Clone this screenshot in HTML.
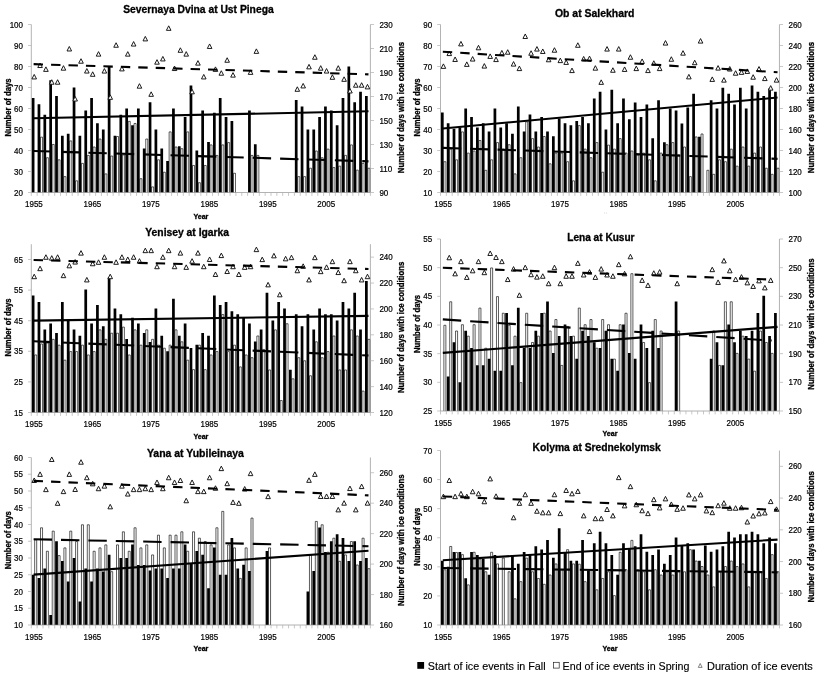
<!DOCTYPE html><html><head><meta charset="utf-8"><title>River ice events</title><style>html,body{margin:0;padding:0;background:#fff}svg{display:block;will-change:transform;opacity:.9999}text{font-family:"Liberation Sans",sans-serif;fill:#000}.t{font-size:8.4px;stroke:#000;stroke-width:.2px}.l{stroke:#000;stroke-width:.15px}.b{font-weight:bold;stroke:#000;stroke-width:.3px}</style></head><body>
<svg width="818" height="675" viewBox="0 0 818 675">
<rect width="818" height="675" fill="#fff"/>
<g><path d="M40.52 192.50V137.13H42.54V192.50M46.36 192.50V157.71H48.38V192.50M52.21 192.50V144.48H54.23V192.50M58.06 192.50V159.81H60.08V192.50M63.90 192.50V176.61H65.92V192.50M69.75 192.50V140.91H71.77V192.50M75.60 192.50V180.81H77.62V192.50M81.44 192.50V163.38H83.46V192.50M87.29 192.50V155.40H89.31V192.50M93.14 192.50V147.00H95.16V192.50M98.98 192.50V139.02H101.00V192.50M104.83 192.50V173.88H106.85V192.50M110.68 192.50V156.03H112.70V192.50M116.52 192.50V136.50H118.54V192.50M122.37 192.50V154.98H124.39V192.50M128.22 192.50V121.38H130.24V192.50M134.06 192.50V123.48H136.08V192.50M139.91 192.50V178.71H141.93V192.50M145.76 192.50V139.02H147.78V192.50M151.60 192.50V186.90H153.62V192.50M157.45 192.50V159.81H159.47V192.50M163.30 192.50V172.20H165.32V192.50M169.14 192.50V131.88H171.16V192.50M174.99 192.50V147.00H177.01V192.50M180.83 192.50V148.68H182.85V192.50M186.68 192.50V131.88H188.70V192.50M192.53 192.50V165.48H194.55V192.50M198.37 192.50V182.70H200.39V192.50M204.22 192.50V165.48H206.24V192.50M210.07 192.50V144.90H212.09V192.50M215.91 192.50V155.40H217.93V192.50M221.76 192.50V144.90H223.78V192.50M227.61 192.50V142.59H229.63V192.50M233.45 192.50V173.25H235.47V192.50M250.99 192.50V155.40H253.01V192.50M256.84 192.50V155.40H258.86V192.50M297.77 192.50V176.61H299.79V192.50M303.61 192.50V176.61H305.63V192.50M309.46 192.50V168.21H311.48V192.50M315.31 192.50V150.99H317.33V192.50M321.15 192.50V157.71H323.17V192.50M327.00 192.50V149.10H329.02V192.50M332.85 192.50V167.58H334.87V192.50M338.69 192.50V166.11H340.71V192.50M344.54 192.50V155.40H346.56V192.50M350.39 192.50V144.90H352.41V192.50M356.23 192.50V170.10H358.25V192.50M362.08 192.50V163.38H364.10V192.50M367.93 192.50V168.21H369.95V192.50" fill="#fff" stroke="#000" stroke-width="0.64"/><path d="M31.75 192.50V98.00H34.47V192.50ZM37.60 192.50V104.30H40.32V192.50ZM43.44 192.50V114.80H46.16V192.50ZM49.29 192.50V80.15H52.01V192.50ZM55.14 192.50V95.90H57.86V192.50ZM60.98 192.50V135.80H63.70V192.50ZM66.83 192.50V133.70H69.55V192.50ZM72.68 192.50V87.50H75.40V192.50ZM78.52 192.50V135.80H81.24V192.50ZM84.37 192.50V110.60H87.09V192.50ZM90.22 192.50V98.00H92.94V192.50ZM96.06 192.50V123.20H98.78V192.50ZM101.91 192.50V129.50H104.63V192.50ZM107.76 192.50V66.50H110.48V192.50ZM113.60 192.50V135.80H116.32V192.50ZM119.45 192.50V114.80H122.17V192.50ZM125.30 192.50V108.50H128.02V192.50ZM131.14 192.50V125.30H133.86V192.50ZM136.99 192.50V108.50H139.71V192.50ZM142.84 192.50V148.40H145.56V192.50ZM148.68 192.50V102.20H151.40V192.50ZM154.53 192.50V129.50H157.25V192.50ZM160.38 192.50V148.40H163.10V192.50ZM166.22 192.50V161.00H168.94V192.50ZM172.07 192.50V108.50H174.79V192.50ZM177.91 192.50V146.30H180.63V192.50ZM183.76 192.50V116.90H186.48V192.50ZM189.61 192.50V85.40H192.33V192.50ZM195.45 192.50V150.50H198.17V192.50ZM201.30 192.50V110.60H204.02V192.50ZM207.15 192.50V142.10H209.87V192.50ZM212.99 192.50V112.70H215.71V192.50ZM218.84 192.50V98.00H221.56V192.50ZM224.69 192.50V116.90H227.41V192.50ZM230.53 192.50V121.10H233.25V192.50ZM248.07 192.50V110.60H250.79V192.50ZM253.92 192.50V144.20H256.64V192.50ZM294.85 192.50V100.10H297.57V192.50ZM300.69 192.50V106.40H303.41V192.50ZM306.54 192.50V129.50H309.26V192.50ZM312.39 192.50V129.50H315.11V192.50ZM318.23 192.50V116.90H320.95V192.50ZM324.08 192.50V106.40H326.80V192.50ZM329.93 192.50V110.60H332.65V192.50ZM335.77 192.50V125.30H338.49V192.50ZM341.62 192.50V98.00H344.34V192.50ZM347.47 192.50V66.50H350.19V192.50ZM353.31 192.50V102.20H356.03V192.50ZM359.16 192.50V91.70H361.88V192.50ZM365.01 192.50V95.90H367.73V192.50Z" fill="#000"/><path d="M31.30 24.50V192.50H370.40V24.50" fill="none" stroke="#8a8a8a" stroke-width="0.65"/><text class="t" transform="translate(23.00 195.50) scale(.953 1)" text-anchor="end">20</text><text class="t" transform="translate(23.00 174.50) scale(.953 1)" text-anchor="end">30</text><text class="t" transform="translate(23.00 153.50) scale(.953 1)" text-anchor="end">40</text><text class="t" transform="translate(23.00 132.50) scale(.953 1)" text-anchor="end">50</text><text class="t" transform="translate(23.00 111.50) scale(.953 1)" text-anchor="end">60</text><text class="t" transform="translate(23.00 90.50) scale(.953 1)" text-anchor="end">70</text><text class="t" transform="translate(23.00 69.50) scale(.953 1)" text-anchor="end">80</text><text class="t" transform="translate(23.00 48.50) scale(.953 1)" text-anchor="end">90</text><text class="t" transform="translate(23.00 27.50) scale(.953 1)" text-anchor="end">100</text><text class="t" transform="translate(379.40 195.50) scale(.953 1)">90</text><text class="t" transform="translate(379.40 171.50) scale(.953 1)">110</text><text class="t" transform="translate(379.40 147.50) scale(.953 1)">130</text><text class="t" transform="translate(379.40 123.50) scale(.953 1)">150</text><text class="t" transform="translate(379.40 99.50) scale(.953 1)">170</text><text class="t" transform="translate(379.40 75.50) scale(.953 1)">190</text><text class="t" transform="translate(379.40 51.50) scale(.953 1)">210</text><text class="t" transform="translate(379.40 27.50) scale(.953 1)">230</text><path d="M31.30 192.50h-3.3M31.30 171.50h-3.3M31.30 150.50h-3.3M31.30 129.50h-3.3M31.30 108.50h-3.3M31.30 87.50h-3.3M31.30 66.50h-3.3M31.30 45.50h-3.3M31.30 24.50h-3.3M370.40 192.50h3.6M370.40 168.50h3.6M370.40 144.50h3.6M370.40 120.50h3.6M370.40 96.50h3.6M370.40 72.50h3.6M370.40 48.50h3.6M370.40 24.50h3.6M31.30 192.50v3.4M37.15 192.50v3.4M42.99 192.50v3.4M48.84 192.50v3.4M54.69 192.50v3.4M60.53 192.50v3.4M66.38 192.50v3.4M72.23 192.50v3.4M78.07 192.50v3.4M83.92 192.50v3.4M89.77 192.50v3.4M95.61 192.50v3.4M101.46 192.50v3.4M107.31 192.50v3.4M113.15 192.50v3.4M119.00 192.50v3.4M124.85 192.50v3.4M130.69 192.50v3.4M136.54 192.50v3.4M142.39 192.50v3.4M148.23 192.50v3.4M154.08 192.50v3.4M159.93 192.50v3.4M165.77 192.50v3.4M171.62 192.50v3.4M177.47 192.50v3.4M183.31 192.50v3.4M189.16 192.50v3.4M195.00 192.50v3.4M200.85 192.50v3.4M206.70 192.50v3.4M212.54 192.50v3.4M218.39 192.50v3.4M224.24 192.50v3.4M230.08 192.50v3.4M235.93 192.50v3.4M241.78 192.50v3.4M247.62 192.50v3.4M253.47 192.50v3.4M259.32 192.50v3.4M265.16 192.50v3.4M271.01 192.50v3.4M276.86 192.50v3.4M282.70 192.50v3.4M288.55 192.50v3.4M294.40 192.50v3.4M300.24 192.50v3.4M306.09 192.50v3.4M311.94 192.50v3.4M317.78 192.50v3.4M323.63 192.50v3.4M329.48 192.50v3.4M335.32 192.50v3.4M341.17 192.50v3.4M347.02 192.50v3.4M352.86 192.50v3.4M358.71 192.50v3.4M364.56 192.50v3.4M370.40 192.50v3.4" fill="none" stroke="#b0b0b0" stroke-width="0.7"/><text class="t" transform="translate(33.92 207.30) scale(.953 1)" text-anchor="middle">1955</text><text class="t" transform="translate(92.39 207.30) scale(.953 1)" text-anchor="middle">1965</text><text class="t" transform="translate(150.86 207.30) scale(.953 1)" text-anchor="middle">1975</text><text class="t" transform="translate(209.32 207.30) scale(.953 1)" text-anchor="middle">1985</text><text class="t" transform="translate(267.79 207.30) scale(.953 1)" text-anchor="middle">1995</text><text class="t" transform="translate(326.25 207.30) scale(.953 1)" text-anchor="middle">2005</text><path d="M34.22 74.44L36.52 78.94H31.92ZM40.07 63.04L42.37 67.54H37.77ZM45.92 66.88L48.22 71.38H43.62ZM51.76 79.72L54.06 84.22H49.46ZM57.61 79.72L59.91 84.22H55.31ZM63.46 65.68L65.76 70.18H61.16ZM69.30 46.48L71.60 50.98H67.00ZM75.15 96.52L77.45 101.02H72.85ZM81.00 58.72L83.30 63.22H78.70ZM86.84 68.56L89.14 73.06H84.54ZM92.69 71.80L94.99 76.30H90.39ZM98.54 51.64L100.84 56.14H96.24ZM104.38 68.56L106.68 73.06H102.08ZM110.23 94.84L112.53 99.34H107.93ZM116.08 42.76L118.38 47.26H113.78ZM121.92 66.40L124.22 70.90H119.62ZM127.77 51.64L130.07 56.14H125.47ZM133.62 41.56L135.92 46.06H131.32ZM139.46 83.68L141.76 88.18H137.16ZM145.31 36.40L147.61 40.90H143.01ZM151.16 91.84L153.46 96.34H148.86ZM157.00 59.68L159.30 64.18H154.70ZM162.85 56.44L165.15 60.94H160.55ZM168.70 25.84L171.00 30.34H166.40ZM174.54 66.04L176.84 70.54H172.24ZM180.39 47.80L182.69 52.30H178.09ZM186.23 51.64L188.53 56.14H183.93ZM192.08 89.32L194.38 93.82H189.78ZM197.93 60.64L200.23 65.14H195.63ZM203.77 74.44L206.07 78.94H201.47ZM209.62 43.96L211.92 48.46H207.32ZM215.47 66.88L217.77 71.38H213.17ZM221.31 70.72L223.61 75.22H219.01ZM227.16 57.76L229.46 62.26H224.86ZM233.01 72.64L235.31 77.14H230.71ZM250.55 69.88L252.85 74.38H248.25ZM256.39 48.88L258.69 53.38H254.09ZM297.32 86.80L299.62 91.30H295.02ZM303.17 83.44L305.47 87.94H300.87ZM309.01 64.36L311.31 68.86H306.71ZM314.86 54.76L317.16 59.26H312.56ZM320.71 65.68L323.01 70.18H318.41ZM326.55 68.56L328.85 73.06H324.25ZM332.40 74.80L334.70 79.30H330.10ZM338.25 65.68L340.55 70.18H335.95ZM344.09 76.84L346.39 81.34H341.79ZM349.94 88.48L352.24 92.98H347.64ZM355.79 82.72L358.09 87.22H353.49ZM361.63 82.72L363.93 87.22H359.33ZM367.48 84.40L369.78 88.90H365.18Z" fill="#fff" stroke="#111" stroke-width="0.95" stroke-linejoin="miter"/><line x1="33.62" y1="118.32" x2="368.48" y2="111.27" stroke="#000" stroke-width="2.1"/><line x1="33.62" y1="150.99" x2="368.48" y2="161.36" stroke="#000" stroke-width="2.1" stroke-dasharray="18.4 9.0"/><line x1="33.62" y1="64.17" x2="368.48" y2="74.36" stroke="#000" stroke-width="2.1" stroke-dasharray="9.4 8.05"/><text class="b" x="198.4" y="12.7" text-anchor="middle" font-size="10.3">Severnaya Dvina at Ust Pinega</text><text class="b" transform="translate(11.0 107.5) rotate(-90) scale(.905 1)" text-anchor="middle" font-size="8.5">Number of days</text><text class="b" transform="translate(404.4 107.5) rotate(-90) scale(.919 1)" text-anchor="middle" font-size="8.5">Number of days with ice conditions</text><text class="b" x="200.9" y="218.6" text-anchor="middle" font-size="7.1">Year</text></g>
<g><path d="M443.87 192.50V161.70H445.89V192.50M449.71 192.50V149.10H451.73V192.50M455.56 192.50V159.81H457.58V192.50M461.40 192.50V131.88H463.42V192.50M467.25 192.50V153.09H469.27V192.50M473.09 192.50V150.99H475.11V192.50M478.93 192.50V140.49H480.95V192.50M484.78 192.50V170.31H486.80V192.50M490.62 192.50V159.81H492.64V192.50M496.47 192.50V142.59H498.49V192.50M502.31 192.50V149.10H504.33V192.50M508.15 192.50V144.69H510.17V192.50M514.00 192.50V173.88H516.02V192.50M519.84 192.50V157.71H521.86V192.50M525.69 192.50V121.80H527.71V192.50M531.53 192.50V138.60H533.55V192.50M537.37 192.50V147.00H539.39V192.50M543.22 192.50V136.50H545.24V192.50M549.06 192.50V163.80H551.08V192.50M554.91 192.50V153.09H556.93V192.50M560.75 192.50V153.09H562.77V192.50M566.59 192.50V161.70H568.61V192.50M572.44 192.50V180.81H574.46V192.50M578.28 192.50V125.58H580.30V192.50M584.13 192.50V149.10H586.15V192.50M589.97 192.50V157.71H591.99V192.50M595.81 192.50V142.59H597.83V192.50M601.66 192.50V172.20H603.68V192.50M607.50 192.50V145.11H609.52V192.50M613.35 192.50V149.10H615.37V192.50M619.19 192.50V138.60H621.21V192.50M625.03 192.50V153.09H627.05V192.50M630.88 192.50V150.99H632.90V192.50M636.72 192.50V154.98H638.74V192.50M642.57 192.50V153.09H644.59V192.50M648.41 192.50V159.81H650.43V192.50M654.25 192.50V180.81H656.27V192.50M660.10 192.50V153.09H662.12V192.50M665.94 192.50V144.69H667.96V192.50M671.79 192.50V142.59H673.81V192.50M677.63 192.50V154.98H679.65V192.50M683.47 192.50V147.00H685.49V192.50M689.32 192.50V176.61H691.34V192.50M695.16 192.50V136.92H697.18V192.50M701.01 192.50V133.98H703.03V192.50M706.85 192.50V170.31H708.87V192.50M712.69 192.50V174.30H714.71V192.50M718.54 192.50V159.81H720.56V192.50M724.38 192.50V161.70H726.40V192.50M730.23 192.50V149.10H732.25V192.50M736.07 192.50V166.11H738.09V192.50M741.91 192.50V147.00H743.93V192.50M747.76 192.50V166.11H749.78V192.50M753.60 192.50V153.09H755.62V192.50M759.45 192.50V147.00H761.47V192.50M765.29 192.50V168.21H767.31V192.50M771.13 192.50V174.30H773.15V192.50M776.98 192.50V168.21H779.00V192.50" fill="#fff" stroke="#000" stroke-width="0.64"/><path d="M440.95 192.50V112.49H443.67V192.50ZM446.79 192.50V123.20H449.51V192.50ZM452.64 192.50V128.66H455.36V192.50ZM458.48 192.50V127.61H461.20V192.50ZM464.33 192.50V108.50H467.05V192.50ZM470.17 192.50V117.11H472.89V192.50ZM476.01 192.50V127.61H478.73V192.50ZM481.86 192.50V123.20H484.58V192.50ZM487.70 192.50V131.60H490.42V192.50ZM493.55 192.50V108.50H496.27V192.50ZM499.39 192.50V127.61H502.11V192.50ZM505.23 192.50V123.20H507.95V192.50ZM511.08 192.50V133.70H513.80V192.50ZM516.92 192.50V106.40H519.64V192.50ZM522.77 192.50V131.60H525.49V192.50ZM528.61 192.50V114.59H531.33V192.50ZM534.45 192.50V131.60H537.17V192.50ZM540.30 192.50V117.11H543.02V192.50ZM546.14 192.50V131.60H548.86V192.50ZM551.99 192.50V136.22H554.71V192.50ZM557.83 192.50V118.58H560.55V192.50ZM563.67 192.50V123.20H566.39V192.50ZM569.52 192.50V125.30H572.24V192.50ZM575.36 192.50V121.10H578.08V192.50ZM581.21 192.50V117.11H583.93V192.50ZM587.05 192.50V123.20H589.77V192.50ZM592.89 192.50V98.42H595.61V192.50ZM598.74 192.50V91.70H601.46V192.50ZM604.58 192.50V129.50H607.30V192.50ZM610.43 192.50V89.81H613.15V192.50ZM616.27 192.50V123.20H618.99V192.50ZM622.11 192.50V98.42H624.83V192.50ZM627.96 192.50V119.21H630.68V192.50ZM633.80 192.50V102.41H636.52V192.50ZM639.65 192.50V117.11H642.37V192.50ZM645.49 192.50V104.51H648.21V192.50ZM651.33 192.50V138.32H654.05V192.50ZM657.18 192.50V100.31H659.90V192.50ZM663.02 192.50V142.31H665.74V192.50ZM668.87 192.50V108.50H671.59V192.50ZM674.71 192.50V110.60H677.43V192.50ZM680.55 192.50V123.62H683.27V192.50ZM686.40 192.50V107.45H689.12V192.50ZM692.24 192.50V93.80H694.96V192.50ZM698.09 192.50V136.64H700.81V192.50ZM709.77 192.50V100.31H712.49V192.50ZM715.62 192.50V108.50H718.34V192.50ZM721.46 192.50V87.71H724.18V192.50ZM727.31 192.50V93.80H730.03V192.50ZM733.15 192.50V104.51H735.87V192.50ZM738.99 192.50V87.71H741.71V192.50ZM744.84 192.50V108.50H747.56V192.50ZM750.68 192.50V85.40H753.40V192.50ZM756.53 192.50V91.70H759.25V192.50ZM762.37 192.50V95.90H765.09V192.50ZM768.21 192.50V88.55H770.93V192.50ZM774.06 192.50V91.70H776.78V192.50Z" fill="#000"/><path d="M440.50 24.50V192.50H779.45V24.50" fill="none" stroke="#8a8a8a" stroke-width="0.65"/><text class="t" transform="translate(432.20 195.50) scale(.953 1)" text-anchor="end">10</text><text class="t" transform="translate(432.20 174.50) scale(.953 1)" text-anchor="end">20</text><text class="t" transform="translate(432.20 153.50) scale(.953 1)" text-anchor="end">30</text><text class="t" transform="translate(432.20 132.50) scale(.953 1)" text-anchor="end">40</text><text class="t" transform="translate(432.20 111.50) scale(.953 1)" text-anchor="end">50</text><text class="t" transform="translate(432.20 90.50) scale(.953 1)" text-anchor="end">60</text><text class="t" transform="translate(432.20 69.50) scale(.953 1)" text-anchor="end">70</text><text class="t" transform="translate(432.20 48.50) scale(.953 1)" text-anchor="end">80</text><text class="t" transform="translate(432.20 27.50) scale(.953 1)" text-anchor="end">90</text><text class="t" transform="translate(788.45 195.50) scale(.953 1)">100</text><text class="t" transform="translate(788.45 174.50) scale(.953 1)">120</text><text class="t" transform="translate(788.45 153.50) scale(.953 1)">140</text><text class="t" transform="translate(788.45 132.50) scale(.953 1)">160</text><text class="t" transform="translate(788.45 111.50) scale(.953 1)">180</text><text class="t" transform="translate(788.45 90.50) scale(.953 1)">200</text><text class="t" transform="translate(788.45 69.50) scale(.953 1)">220</text><text class="t" transform="translate(788.45 48.50) scale(.953 1)">240</text><text class="t" transform="translate(788.45 27.50) scale(.953 1)">260</text><path d="M440.50 192.50h-3.3M440.50 171.50h-3.3M440.50 150.50h-3.3M440.50 129.50h-3.3M440.50 108.50h-3.3M440.50 87.50h-3.3M440.50 66.50h-3.3M440.50 45.50h-3.3M440.50 24.50h-3.3M779.45 192.50h3.6M779.45 171.50h3.6M779.45 150.50h3.6M779.45 129.50h3.6M779.45 108.50h3.6M779.45 87.50h3.6M779.45 66.50h3.6M779.45 45.50h3.6M779.45 24.50h3.6M440.50 192.50v3.4M446.34 192.50v3.4M452.19 192.50v3.4M458.03 192.50v3.4M463.88 192.50v3.4M469.72 192.50v3.4M475.56 192.50v3.4M481.41 192.50v3.4M487.25 192.50v3.4M493.10 192.50v3.4M498.94 192.50v3.4M504.78 192.50v3.4M510.63 192.50v3.4M516.47 192.50v3.4M522.32 192.50v3.4M528.16 192.50v3.4M534.00 192.50v3.4M539.85 192.50v3.4M545.69 192.50v3.4M551.54 192.50v3.4M557.38 192.50v3.4M563.22 192.50v3.4M569.07 192.50v3.4M574.91 192.50v3.4M580.76 192.50v3.4M586.60 192.50v3.4M592.44 192.50v3.4M598.29 192.50v3.4M604.13 192.50v3.4M609.98 192.50v3.4M615.82 192.50v3.4M621.66 192.50v3.4M627.51 192.50v3.4M633.35 192.50v3.4M639.20 192.50v3.4M645.04 192.50v3.4M650.88 192.50v3.4M656.73 192.50v3.4M662.57 192.50v3.4M668.42 192.50v3.4M674.26 192.50v3.4M680.10 192.50v3.4M685.95 192.50v3.4M691.79 192.50v3.4M697.64 192.50v3.4M703.48 192.50v3.4M709.32 192.50v3.4M715.17 192.50v3.4M721.01 192.50v3.4M726.86 192.50v3.4M732.70 192.50v3.4M738.54 192.50v3.4M744.39 192.50v3.4M750.23 192.50v3.4M756.08 192.50v3.4M761.92 192.50v3.4M767.76 192.50v3.4M773.61 192.50v3.4M779.45 192.50v3.4" fill="none" stroke="#b0b0b0" stroke-width="0.7"/><text class="t" transform="translate(443.12 207.30) scale(.953 1)" text-anchor="middle">1955</text><text class="t" transform="translate(501.56 207.30) scale(.953 1)" text-anchor="middle">1965</text><text class="t" transform="translate(560.00 207.30) scale(.953 1)" text-anchor="middle">1975</text><text class="t" transform="translate(618.44 207.30) scale(.953 1)" text-anchor="middle">1985</text><text class="t" transform="translate(676.88 207.30) scale(.953 1)" text-anchor="middle">1995</text><text class="t" transform="translate(735.32 207.30) scale(.953 1)" text-anchor="middle">2005</text><path d="M443.42 63.89L445.72 68.39H441.12ZM449.27 51.09L451.57 55.59H446.97ZM455.11 56.97L457.41 61.47H452.81ZM460.95 41.42L463.25 45.92H458.65ZM466.80 61.90L469.10 66.40H464.50ZM472.64 56.55L474.94 61.05H470.34ZM478.49 45.31L480.79 49.81H476.19ZM484.33 63.58L486.63 68.08H482.03ZM490.17 53.92L492.47 58.42H487.87ZM496.02 57.07L498.32 61.57H493.72ZM501.86 50.45L504.16 54.95H499.56ZM507.71 49.72L510.01 54.22H505.41ZM513.55 61.59L515.85 66.09H511.25ZM519.39 66.10L521.69 70.60H517.09ZM525.24 33.97L527.54 38.47H522.94ZM531.08 50.77L533.38 55.27H528.78ZM536.93 46.57L539.23 51.07H534.63ZM542.77 48.98L545.07 53.48H540.47ZM548.61 57.28L550.91 61.78H546.31ZM554.46 47.72L556.76 52.22H552.16ZM560.30 58.12L562.60 62.62H558.00ZM566.15 59.91L568.45 64.41H563.85ZM571.99 68.09L574.29 72.59H569.69ZM577.83 42.79L580.13 47.29H575.53ZM583.68 56.44L585.98 60.94H581.38ZM589.52 56.12L591.82 60.62H587.22ZM595.37 65.68L597.67 70.18H593.07ZM601.21 79.86L603.51 84.36H598.91ZM607.05 46.57L609.35 51.07H604.75ZM612.90 67.78L615.20 72.28H610.60ZM618.74 46.57L621.04 51.07H616.44ZM624.59 66.94L626.89 71.44H622.29ZM630.43 54.76L632.73 59.26H628.13ZM636.27 66.10L638.57 70.60H633.97ZM642.12 58.96L644.42 63.46H639.82ZM647.96 68.09L650.26 72.59H645.66ZM653.81 60.75L656.11 65.25H651.51ZM659.65 66.10L661.95 70.60H657.35ZM665.49 40.59L667.79 45.09H663.19ZM671.34 56.75L673.64 61.25H669.04ZM683.03 50.66L685.33 55.16H680.73ZM688.87 74.39L691.17 78.89H686.57ZM694.71 60.22L697.01 64.72H692.41ZM700.56 38.59L702.86 43.09H698.26ZM712.25 76.92L714.55 81.42H709.95ZM718.09 65.58L720.39 70.08H715.79ZM723.93 77.65L726.23 82.15H721.63ZM729.78 66.52L732.08 71.02H727.48ZM735.62 70.72L737.92 75.22H733.32ZM741.47 69.88L743.77 74.38H739.17ZM747.31 68.93L749.61 73.43H745.01ZM753.15 74.71L755.45 79.21H750.85ZM759.00 66.52L761.30 71.02H756.70ZM764.84 76.08L767.14 80.58H762.54ZM770.69 85.63L772.99 90.13H768.39ZM776.53 77.65L778.83 82.15H774.23Z" fill="#fff" stroke="#111" stroke-width="0.95" stroke-linejoin="miter"/><line x1="442.82" y1="128.45" x2="777.53" y2="97.55" stroke="#000" stroke-width="2.1"/><line x1="442.82" y1="147.85" x2="777.53" y2="158.84" stroke="#000" stroke-width="2.1" stroke-dasharray="18.4 9.0"/><line x1="442.82" y1="51.73" x2="777.53" y2="72.26" stroke="#000" stroke-width="2.1" stroke-dasharray="9.4 8.05"/><text class="b" x="594.7" y="16.6" text-anchor="middle" font-size="10.44">Ob at Salekhard</text><text class="b" transform="translate(420.2 107.5) rotate(-90) scale(.905 1)" text-anchor="middle" font-size="8.5">Number of days</text><text class="b" transform="translate(813.5 107.5) rotate(-90) scale(.919 1)" text-anchor="middle" font-size="8.5">Number of days with ice conditions</text></g>
<g><path d="M34.67 412.50V354.95H36.69V412.50M40.52 412.50V343.93H42.54V412.50M46.36 412.50V343.01H48.38V412.50M52.21 412.50V339.34H54.23V412.50M58.06 412.50V345.15H60.08V412.50M63.90 412.50V360.15H65.92V412.50M69.75 412.50V351.58H71.77V412.50M75.60 412.50V351.58H77.62V412.50M81.44 412.50V345.15H83.46V412.50M87.29 412.50V354.95H89.31V412.50M93.14 412.50V351.58H95.16V412.50M98.98 412.50V329.85H101.00V412.50M104.83 412.50V339.34H106.85V412.50M110.68 412.50V333.22H112.70V412.50M116.52 412.50V333.22H118.54V412.50M122.37 412.50V327.10H124.39V412.50M128.22 412.50V354.95H130.24V412.50M134.06 412.50V329.85H136.08V412.50M139.91 412.50V345.15H141.93V412.50M145.76 412.50V329.85H147.78V412.50M151.60 412.50V339.34H153.62V412.50M157.45 412.50V345.15H159.47V412.50M163.30 412.50V348.21H165.32V412.50M169.14 412.50V345.15H171.16V412.50M174.99 412.50V329.85H177.01V412.50M180.83 412.50V341.79H182.85V412.50M186.68 412.50V360.15H188.70V412.50M192.53 412.50V369.63H194.55V412.50M198.37 412.50V345.15H200.39V412.50M204.22 412.50V369.63H206.24V412.50M210.07 412.50V354.95H212.09V412.50M215.91 412.50V351.58H217.93V412.50M221.76 412.50V314.55H223.78V412.50M227.61 412.50V351.58H229.63V412.50M233.45 412.50V345.15H235.47V412.50M239.30 412.50V366.88H241.32V412.50M245.15 412.50V354.95H247.17V412.50M250.99 412.50V357.70H253.01V412.50M256.84 412.50V335.97H258.86V412.50M262.69 412.50V349.44H264.71V412.50M268.53 412.50V369.94H270.55V412.50M274.38 412.50V329.85H276.40V412.50M280.23 412.50V400.54H282.25V412.50M286.07 412.50V323.73H288.09V412.50M291.92 412.50V378.81H293.94V412.50M297.77 412.50V357.70H299.79V412.50M303.61 412.50V360.76H305.63V412.50M309.46 412.50V375.75H311.48V412.50M315.31 412.50V341.79H317.33V412.50M321.15 412.50V357.70H323.17V412.50M327.00 412.50V351.58H329.02V412.50M332.85 412.50V335.97H334.87V412.50M338.69 412.50V369.94H340.71V412.50M344.54 412.50V369.94H346.56V412.50M350.39 412.50V329.85H352.41V412.50M356.23 412.50V335.97H358.25V412.50M362.08 412.50V391.05H364.10V412.50M367.93 412.50V339.34H369.95V412.50" fill="#fff" stroke="#000" stroke-width="0.64"/><path d="M31.75 412.50V295.61H34.47V412.50ZM37.60 412.50V302.03H40.32V412.50ZM43.44 412.50V329.57H46.16V412.50ZM49.29 412.50V323.45H52.01V412.50ZM55.14 412.50V332.94H57.86V412.50ZM60.98 412.50V302.03H63.70V412.50ZM66.83 412.50V320.39H69.55V412.50ZM72.68 412.50V329.57H75.40V412.50ZM78.52 412.50V335.69H81.24V412.50ZM84.37 412.50V289.49H87.09V412.50ZM90.22 412.50V323.45H92.94V412.50ZM96.06 412.50V305.09H98.78V412.50ZM101.91 412.50V326.21H104.63V412.50ZM107.76 412.50V277.55H110.48V412.50ZM113.60 412.50V308.46H116.32V412.50ZM119.45 412.50V314.27H122.17V412.50ZM125.30 412.50V339.06H128.02V412.50ZM131.14 412.50V317.64H133.86V412.50ZM136.99 412.50V323.45H139.71V412.50ZM142.84 412.50V332.94H145.56V412.50ZM148.68 412.50V342.12H151.40V412.50ZM154.53 412.50V308.46H157.25V412.50ZM160.38 412.50V335.69H163.10V412.50ZM166.22 412.50V351.30H168.94V412.50ZM172.07 412.50V298.67H174.79V412.50ZM177.91 412.50V335.69H180.63V412.50ZM183.76 412.50V323.45H186.48V412.50ZM189.61 412.50V347.93H192.33V412.50ZM195.45 412.50V344.87H198.17V412.50ZM201.30 412.50V332.94H204.02V412.50ZM207.15 412.50V335.69H209.87V412.50ZM212.99 412.50V295.61H215.71V412.50ZM218.84 412.50V305.09H221.56V412.50ZM224.69 412.50V302.03H227.41V412.50ZM230.53 412.50V311.21H233.25V412.50ZM236.38 412.50V314.27H239.10V412.50ZM242.23 412.50V317.64H244.95V412.50ZM248.07 412.50V323.45H250.79V412.50ZM253.92 412.50V341.51H256.64V412.50ZM259.77 412.50V329.57H262.49V412.50ZM265.61 412.50V292.85H268.33V412.50ZM271.46 412.50V320.39H274.18V412.50ZM277.31 412.50V302.03H280.03V412.50ZM283.15 412.50V308.46H285.87V412.50ZM289.00 412.50V369.66H291.72V412.50ZM294.85 412.50V314.27H297.57V412.50ZM300.69 412.50V326.21H303.41V412.50ZM306.54 412.50V314.27H309.26V412.50ZM312.39 412.50V329.57H315.11V412.50ZM318.23 412.50V308.46H320.95V412.50ZM324.08 412.50V314.27H326.80V412.50ZM329.93 412.50V314.27H332.65V412.50ZM335.77 412.50V320.39H338.49V412.50ZM341.62 412.50V302.03H344.34V412.50ZM347.47 412.50V308.46H350.19V412.50ZM353.31 412.50V292.85H356.03V412.50ZM359.16 412.50V329.57H361.88V412.50ZM365.01 412.50V280.92H367.73V412.50Z" fill="#000"/><path d="M31.30 244.20V412.50H370.40V244.20" fill="none" stroke="#8a8a8a" stroke-width="0.65"/><text class="t" transform="translate(23.00 415.50) scale(.953 1)" text-anchor="end">15</text><text class="t" transform="translate(23.00 384.90) scale(.953 1)" text-anchor="end">25</text><text class="t" transform="translate(23.00 354.30) scale(.953 1)" text-anchor="end">35</text><text class="t" transform="translate(23.00 323.70) scale(.953 1)" text-anchor="end">45</text><text class="t" transform="translate(23.00 293.10) scale(.953 1)" text-anchor="end">55</text><text class="t" transform="translate(23.00 262.50) scale(.953 1)" text-anchor="end">65</text><text class="t" transform="translate(379.40 415.50) scale(.953 1)">120</text><text class="t" transform="translate(379.40 389.61) scale(.953 1)">140</text><text class="t" transform="translate(379.40 363.72) scale(.953 1)">160</text><text class="t" transform="translate(379.40 337.82) scale(.953 1)">180</text><text class="t" transform="translate(379.40 311.93) scale(.953 1)">200</text><text class="t" transform="translate(379.40 286.04) scale(.953 1)">220</text><text class="t" transform="translate(379.40 260.15) scale(.953 1)">240</text><path d="M31.30 412.50h-3.3M31.30 381.90h-3.3M31.30 351.30h-3.3M31.30 320.70h-3.3M31.30 290.10h-3.3M31.30 259.50h-3.3M370.40 412.50h3.6M370.40 386.61h3.6M370.40 360.72h3.6M370.40 334.82h3.6M370.40 308.93h3.6M370.40 283.04h3.6M370.40 257.15h3.6M31.30 412.50v3.4M37.15 412.50v3.4M42.99 412.50v3.4M48.84 412.50v3.4M54.69 412.50v3.4M60.53 412.50v3.4M66.38 412.50v3.4M72.23 412.50v3.4M78.07 412.50v3.4M83.92 412.50v3.4M89.77 412.50v3.4M95.61 412.50v3.4M101.46 412.50v3.4M107.31 412.50v3.4M113.15 412.50v3.4M119.00 412.50v3.4M124.85 412.50v3.4M130.69 412.50v3.4M136.54 412.50v3.4M142.39 412.50v3.4M148.23 412.50v3.4M154.08 412.50v3.4M159.93 412.50v3.4M165.77 412.50v3.4M171.62 412.50v3.4M177.47 412.50v3.4M183.31 412.50v3.4M189.16 412.50v3.4M195.00 412.50v3.4M200.85 412.50v3.4M206.70 412.50v3.4M212.54 412.50v3.4M218.39 412.50v3.4M224.24 412.50v3.4M230.08 412.50v3.4M235.93 412.50v3.4M241.78 412.50v3.4M247.62 412.50v3.4M253.47 412.50v3.4M259.32 412.50v3.4M265.16 412.50v3.4M271.01 412.50v3.4M276.86 412.50v3.4M282.70 412.50v3.4M288.55 412.50v3.4M294.40 412.50v3.4M300.24 412.50v3.4M306.09 412.50v3.4M311.94 412.50v3.4M317.78 412.50v3.4M323.63 412.50v3.4M329.48 412.50v3.4M335.32 412.50v3.4M341.17 412.50v3.4M347.02 412.50v3.4M352.86 412.50v3.4M358.71 412.50v3.4M364.56 412.50v3.4M370.40 412.50v3.4" fill="none" stroke="#b0b0b0" stroke-width="0.7"/><text class="t" transform="translate(33.92 427.30) scale(.953 1)" text-anchor="middle">1955</text><text class="t" transform="translate(92.39 427.30) scale(.953 1)" text-anchor="middle">1965</text><text class="t" transform="translate(150.86 427.30) scale(.953 1)" text-anchor="middle">1975</text><text class="t" transform="translate(209.32 427.30) scale(.953 1)" text-anchor="middle">1985</text><text class="t" transform="translate(267.79 427.30) scale(.953 1)" text-anchor="middle">1995</text><text class="t" transform="translate(326.25 427.30) scale(.953 1)" text-anchor="middle">2005</text><path d="M34.22 274.19L36.52 278.69H31.92ZM40.07 266.17L42.37 270.67H37.77ZM45.92 254.78L48.22 259.28H43.62ZM51.76 255.68L54.06 260.18H49.46ZM57.61 254.78L59.91 259.28H55.31ZM63.46 273.16L65.76 277.66H61.16ZM69.30 263.32L71.60 267.82H67.00ZM75.15 259.57L77.45 264.07H72.85ZM81.00 250.63L83.30 255.13H78.70ZM86.84 277.43L89.14 281.93H84.54ZM92.69 261.25L94.99 265.75H90.39ZM98.54 259.82L100.84 264.32H96.24ZM104.38 254.78L106.68 259.28H102.08ZM110.23 274.19L112.53 278.69H107.93ZM116.08 259.82L118.38 264.32H113.78ZM121.92 254.78L124.22 259.28H119.62ZM127.77 256.98L130.07 261.48H125.47ZM133.62 254.78L135.92 259.28H131.32ZM139.46 258.66L141.76 263.16H137.16ZM145.31 248.17L147.61 252.67H143.01ZM151.16 248.17L153.46 252.67H148.86ZM157.00 264.23L159.30 268.73H154.70ZM162.85 254.78L165.15 259.28H160.55ZM168.70 248.17L171.00 252.67H166.40ZM174.54 264.23L176.84 268.73H172.24ZM180.39 250.63L182.69 255.13H178.09ZM186.23 264.87L188.53 269.37H183.93ZM192.08 258.66L194.38 263.16H189.78ZM197.93 250.63L200.23 255.13H195.63ZM203.77 264.23L206.07 268.73H201.47ZM209.62 256.98L211.92 261.48H207.32ZM215.47 271.99L217.77 276.49H213.17ZM221.31 253.09L223.61 257.59H219.01ZM227.16 269.02L229.46 273.52H224.86ZM233.01 264.23L235.31 268.73H230.71ZM238.85 271.99L241.15 276.49H236.55ZM244.70 264.87L247.00 269.37H242.40ZM250.55 264.23L252.85 268.73H248.25ZM256.39 247.14L258.69 251.64H254.09ZM262.24 257.11L264.54 261.61H259.94ZM268.09 282.35L270.39 286.85H265.79ZM273.93 253.35L276.23 257.85H271.63ZM279.78 292.32L282.08 296.82H277.48ZM285.63 256.33L287.93 260.83H283.33ZM291.47 255.16L293.77 259.66H289.17ZM297.32 268.24L299.62 272.74H295.02ZM303.17 263.84L305.47 268.34H300.87ZM309.01 277.43L311.31 281.93H306.71ZM314.86 255.16L317.16 259.66H312.56ZM320.71 269.15L323.01 273.65H318.41ZM326.55 264.87L328.85 269.37H324.25ZM332.40 259.18L334.70 263.68H330.10ZM338.25 270.05L340.55 274.55H335.95ZM344.09 278.21L346.39 282.71H341.79ZM349.94 259.18L352.24 263.68H347.64ZM355.79 268.24L358.09 272.74H353.49ZM361.63 277.43L363.93 281.93H359.33ZM367.48 274.19L369.78 278.69H365.18Z" fill="#fff" stroke="#111" stroke-width="0.95" stroke-linejoin="miter"/><line x1="33.62" y1="320.67" x2="368.48" y2="315.83" stroke="#000" stroke-width="2.1"/><line x1="33.62" y1="341.30" x2="368.48" y2="355.50" stroke="#000" stroke-width="2.1" stroke-dasharray="18.4 9.0"/><line x1="33.62" y1="260.06" x2="368.48" y2="269.01" stroke="#000" stroke-width="2.1" stroke-dasharray="9.4 8.05"/><text class="b" x="187.2" y="236.3" text-anchor="middle" font-size="10.34">Yenisey at Igarka</text><text class="b" transform="translate(11.0 327.4) rotate(-90) scale(.905 1)" text-anchor="middle" font-size="8.5">Number of days</text><text class="b" transform="translate(404.4 327.4) rotate(-90) scale(.919 1)" text-anchor="middle" font-size="8.5">Number of days with ice conditions</text><text class="b" x="200.9" y="438.6" text-anchor="middle" font-size="7.1">Year</text></g>
<g><path d="M443.87 411.00V325.28H445.89V411.00M449.71 411.00V301.77H451.73V411.00M455.56 411.00V331.01H457.58V411.00M461.40 411.00V324.71H463.42V411.00M467.25 411.00V336.17H469.27V411.00M473.09 411.00V324.71H475.11V411.00M478.93 411.00V308.08H480.95V411.00M484.78 411.00V348.21H486.80V411.00M490.62 411.00V267.95H492.64V411.00M496.47 411.00V296.61H498.49V411.00M502.31 411.00V313.24H504.33V411.00M508.15 411.00V325.28H510.17V411.00M514.00 411.00V336.17H516.02V411.00M519.84 411.00V382.61H521.86V411.00M525.69 411.00V313.24H527.71V411.00M531.53 411.00V342.48H533.55V411.00M537.37 411.00V336.17H539.39V411.00M543.22 411.00V313.24H545.24V411.00M549.06 411.00V331.01H551.08V411.00M554.91 411.00V319.55H556.93V411.00M560.75 411.00V365.41H562.77V411.00M566.59 411.00V326.43H568.61V411.00M572.44 411.00V336.17H574.46V411.00M578.28 411.00V308.08H580.30V411.00M584.13 411.00V324.71H586.15V411.00M589.97 411.00V319.55H591.99V411.00M595.81 411.00V348.21H597.83V411.00M601.66 411.00V319.55H603.68V411.00M607.50 411.00V324.71H609.52V411.00M613.35 411.00V359.11H615.37V411.00M619.19 411.00V324.71H621.21V411.00M625.03 411.00V313.24H627.05V411.00M630.88 411.00V273.68H632.90V411.00M642.57 411.00V342.48H644.59V411.00M648.41 411.00V382.61H650.43V411.00M654.25 411.00V319.55H656.27V411.00M660.10 411.00V331.01H662.12V411.00M677.63 411.00V331.01H679.65V411.00M712.69 411.00V331.01H714.71V411.00M718.54 411.00V365.41H720.56V411.00M724.38 411.00V301.77H726.40V411.00M730.23 411.00V301.77H732.25V411.00M736.07 411.00V353.37H738.09V411.00M741.91 411.00V336.17H743.93V411.00M747.76 411.00V359.11H749.78V411.00M753.60 411.00V371.15H755.62V411.00M759.45 411.00V331.01H761.47V411.00M765.29 411.00V342.48H767.31V411.00M771.13 411.00V353.37H773.15V411.00" fill="#fff" stroke="#000" stroke-width="0.64"/><path d="M446.79 411.00V376.60H449.51V411.00ZM452.64 411.00V342.20H455.36V411.00ZM458.48 411.00V382.33H461.20V411.00ZM464.33 411.00V330.73H467.05V411.00ZM470.17 411.00V347.93H472.89V411.00ZM476.01 411.00V365.13H478.73V411.00ZM481.86 411.00V365.13H484.58V411.00ZM487.70 411.00V358.83H490.42V411.00ZM493.55 411.00V370.87H496.27V411.00ZM499.39 411.00V370.87H502.11V411.00ZM505.23 411.00V312.96H507.95V411.00ZM511.08 411.00V365.13H513.80V411.00ZM516.92 411.00V307.80H519.64V411.00ZM522.77 411.00V347.93H525.49V411.00ZM528.61 411.00V347.93H531.33V411.00ZM534.45 411.00V330.73H537.17V411.00ZM540.30 411.00V312.96H543.02V411.00ZM546.14 411.00V301.49H548.86V411.00ZM551.99 411.00V353.09H554.71V411.00ZM557.83 411.00V335.89H560.55V411.00ZM563.67 411.00V324.43H566.39V411.00ZM569.52 411.00V335.89H572.24V411.00ZM575.36 411.00V358.83H578.08V411.00ZM581.21 411.00V330.73H583.93V411.00ZM587.05 411.00V335.89H589.77V411.00ZM592.89 411.00V342.20H595.61V411.00ZM598.74 411.00V347.93H601.46V411.00ZM604.58 411.00V330.73H607.30V411.00ZM610.43 411.00V358.83H613.15V411.00ZM616.27 411.00V370.87H618.99V411.00ZM622.11 411.00V324.43H624.83V411.00ZM627.96 411.00V353.09H630.68V411.00ZM633.80 411.00V358.83H636.52V411.00ZM639.65 411.00V324.43H642.37V411.00ZM645.49 411.00V347.93H648.21V411.00ZM651.33 411.00V330.73H654.05V411.00ZM657.18 411.00V347.93H659.90V411.00ZM674.71 411.00V301.49H677.43V411.00ZM709.77 411.00V358.83H712.49V411.00ZM715.62 411.00V342.20H718.34V411.00ZM721.46 411.00V365.13H724.18V411.00ZM727.31 411.00V324.43H730.03V411.00ZM733.15 411.00V342.20H735.87V411.00ZM738.99 411.00V330.73H741.71V411.00ZM744.84 411.00V335.89H747.56V411.00ZM750.68 411.00V330.73H753.40V411.00ZM756.53 411.00V312.96H759.25V411.00ZM762.37 411.00V295.76H765.09V411.00ZM768.21 411.00V335.89H770.93V411.00ZM774.06 411.00V312.96H776.78V411.00Z" fill="#000"/><path d="M440.50 239.00V411.00H779.45V239.00" fill="none" stroke="#8a8a8a" stroke-width="0.65"/><text class="t" transform="translate(432.20 414.00) scale(.953 1)" text-anchor="end">25</text><text class="t" transform="translate(432.20 385.33) scale(.953 1)" text-anchor="end">30</text><text class="t" transform="translate(432.20 356.67) scale(.953 1)" text-anchor="end">35</text><text class="t" transform="translate(432.20 328.00) scale(.953 1)" text-anchor="end">40</text><text class="t" transform="translate(432.20 299.33) scale(.953 1)" text-anchor="end">45</text><text class="t" transform="translate(432.20 270.67) scale(.953 1)" text-anchor="end">50</text><text class="t" transform="translate(432.20 242.00) scale(.953 1)" text-anchor="end">55</text><text class="t" transform="translate(788.45 414.00) scale(.953 1)">150</text><text class="t" transform="translate(788.45 385.33) scale(.953 1)">170</text><text class="t" transform="translate(788.45 356.67) scale(.953 1)">190</text><text class="t" transform="translate(788.45 328.00) scale(.953 1)">210</text><text class="t" transform="translate(788.45 299.33) scale(.953 1)">230</text><text class="t" transform="translate(788.45 270.67) scale(.953 1)">250</text><text class="t" transform="translate(788.45 242.00) scale(.953 1)">270</text><path d="M440.50 411.00h-3.3M440.50 382.33h-3.3M440.50 353.67h-3.3M440.50 325.00h-3.3M440.50 296.33h-3.3M440.50 267.67h-3.3M440.50 239.00h-3.3M779.45 411.00h3.6M779.45 382.33h3.6M779.45 353.67h3.6M779.45 325.00h3.6M779.45 296.33h3.6M779.45 267.67h3.6M779.45 239.00h3.6M440.50 411.00v3.4M446.34 411.00v3.4M452.19 411.00v3.4M458.03 411.00v3.4M463.88 411.00v3.4M469.72 411.00v3.4M475.56 411.00v3.4M481.41 411.00v3.4M487.25 411.00v3.4M493.10 411.00v3.4M498.94 411.00v3.4M504.78 411.00v3.4M510.63 411.00v3.4M516.47 411.00v3.4M522.32 411.00v3.4M528.16 411.00v3.4M534.00 411.00v3.4M539.85 411.00v3.4M545.69 411.00v3.4M551.54 411.00v3.4M557.38 411.00v3.4M563.22 411.00v3.4M569.07 411.00v3.4M574.91 411.00v3.4M580.76 411.00v3.4M586.60 411.00v3.4M592.44 411.00v3.4M598.29 411.00v3.4M604.13 411.00v3.4M609.98 411.00v3.4M615.82 411.00v3.4M621.66 411.00v3.4M627.51 411.00v3.4M633.35 411.00v3.4M639.20 411.00v3.4M645.04 411.00v3.4M650.88 411.00v3.4M656.73 411.00v3.4M662.57 411.00v3.4M668.42 411.00v3.4M674.26 411.00v3.4M680.10 411.00v3.4M685.95 411.00v3.4M691.79 411.00v3.4M697.64 411.00v3.4M703.48 411.00v3.4M709.32 411.00v3.4M715.17 411.00v3.4M721.01 411.00v3.4M726.86 411.00v3.4M732.70 411.00v3.4M738.54 411.00v3.4M744.39 411.00v3.4M750.23 411.00v3.4M756.08 411.00v3.4M761.92 411.00v3.4M767.76 411.00v3.4M773.61 411.00v3.4M779.45 411.00v3.4" fill="none" stroke="#b0b0b0" stroke-width="0.7"/><text class="t" transform="translate(443.12 425.80) scale(.953 1)" text-anchor="middle">1955</text><text class="t" transform="translate(501.56 425.80) scale(.953 1)" text-anchor="middle">1965</text><text class="t" transform="translate(560.00 425.80) scale(.953 1)" text-anchor="middle">1975</text><text class="t" transform="translate(618.44 425.80) scale(.953 1)" text-anchor="middle">1985</text><text class="t" transform="translate(676.88 425.80) scale(.953 1)" text-anchor="middle">1995</text><text class="t" transform="translate(735.32 425.80) scale(.953 1)" text-anchor="middle">2005</text><path d="M449.27 255.28L451.57 259.78H446.97ZM455.11 271.33L457.41 275.83H452.81ZM460.95 259.15L463.25 263.65H458.65ZM466.80 274.91L469.10 279.41H464.50ZM472.64 268.32L474.94 272.82H470.34ZM478.49 259.15L480.79 263.65H476.19ZM484.33 270.18L486.63 274.68H482.03ZM490.17 250.98L492.47 255.48H487.87ZM496.02 254.99L498.32 259.49H493.72ZM501.86 259.15L504.16 263.65H499.56ZM507.71 277.06L510.01 281.56H505.41ZM513.55 266.60L515.85 271.10H511.25ZM519.39 292.83L521.69 297.33H517.09ZM525.24 265.17L527.54 269.67H522.94ZM531.08 272.19L533.38 276.69H528.78ZM536.93 274.63L539.23 279.13H534.63ZM542.77 273.77L545.07 278.27H540.47ZM548.61 281.22L550.91 285.72H546.31ZM554.46 265.17L556.76 269.67H552.16ZM560.30 281.22L562.60 285.72H558.00ZM566.15 273.77L568.45 278.27H563.85ZM571.99 273.77L574.29 278.27H569.69ZM577.83 260.87L580.13 265.37H575.53ZM583.68 272.48L585.98 276.98H581.38ZM589.52 269.61L591.82 274.11H587.22ZM595.37 274.91L597.67 279.41H593.07ZM601.21 266.60L603.51 271.10H598.91ZM607.05 272.48L609.35 276.98H604.75ZM612.90 273.77L615.20 278.27H610.60ZM618.74 262.16L621.04 266.66H616.44ZM624.59 271.33L626.89 275.83H622.29ZM630.43 254.27L632.73 258.77H628.13ZM642.12 277.92L644.42 282.42H639.82ZM647.96 282.94L650.26 287.44H645.66ZM653.81 270.76L656.11 275.26H651.51ZM659.65 269.61L661.95 274.11H657.35ZM677.18 281.22L679.48 285.72H674.88ZM712.25 267.17L714.55 271.67H709.95ZM718.09 279.93L720.39 284.43H715.79ZM723.93 258.43L726.23 262.93H721.63ZM729.78 268.32L732.08 272.82H727.48ZM735.62 277.06L737.92 281.56H733.32ZM741.47 274.63L743.77 279.13H739.17ZM747.31 280.36L749.61 284.86H745.01ZM753.15 283.94L755.45 288.44H750.85ZM759.00 278.35L761.30 282.85H756.70ZM764.84 285.38L767.14 289.88H762.54ZM770.69 277.92L772.99 282.42H768.39Z" fill="#fff" stroke="#111" stroke-width="0.95" stroke-linejoin="miter"/><line x1="442.82" y1="352.91" x2="777.53" y2="326.87" stroke="#000" stroke-width="2.1"/><line x1="442.82" y1="319.42" x2="771.69" y2="340.55" stroke="#000" stroke-width="2.1" stroke-dasharray="18.4 9.0"/><line x1="442.82" y1="267.75" x2="771.69" y2="279.57" stroke="#000" stroke-width="2.1" stroke-dasharray="9.4 8.05"/><text class="b" x="600.9" y="241.4" text-anchor="middle" font-size="10.1">Lena at Kusur</text><text class="b" transform="translate(420.2 324.0) rotate(-90) scale(.905 1)" text-anchor="middle" font-size="8.5">Number of days</text><text class="b" transform="translate(813.5 324.0) rotate(-90) scale(.919 1)" text-anchor="middle" font-size="8.5">Number of days with ice conditions</text><text class="b" x="610.0" y="435.5" text-anchor="middle" font-size="7.1">Year</text></g>
<g><path d="M34.67 625.00V539.86H36.69V625.00M40.52 625.00V527.79H42.54V625.00M46.36 625.00V551.25H48.38V625.00M52.21 625.00V531.14H54.23V625.00M58.06 625.00V555.60H60.08V625.00M63.90 625.00V547.89H65.92V625.00M69.75 625.00V531.14H71.77V625.00M75.60 625.00V541.53H77.62V625.00M81.44 625.00V524.78H83.46V625.00M87.29 625.00V524.78H89.31V625.00M93.14 625.00V551.25H95.16V625.00M98.98 625.00V547.89H101.00V625.00M104.83 625.00V544.88H106.85V625.00M110.68 625.00V571.68H112.70V625.00M116.52 625.00V544.88H118.54V625.00M122.37 625.00V531.81H124.39V625.00M128.22 625.00V551.25H130.24V625.00M134.06 625.00V527.79H136.08V625.00M139.91 625.00V547.89H141.93V625.00M145.76 625.00V544.88H147.78V625.00M151.60 625.00V554.93H153.62V625.00M157.45 625.00V535.16H159.47V625.00M163.30 625.00V547.89H165.32V625.00M169.14 625.00V535.16H171.16V625.00M174.99 625.00V535.16H177.01V625.00M180.83 625.00V531.81H182.85V625.00M186.68 625.00V551.25H188.70V625.00M192.53 625.00V531.81H194.55V625.00M198.37 625.00V538.18H200.39V625.00M204.22 625.00V541.53H206.24V625.00M210.07 625.00V544.88H212.09V625.00M215.91 625.00V527.79H217.93V625.00M221.76 625.00V511.38H223.78V625.00M227.61 625.00V544.88H229.63V625.00M233.45 625.00V547.89H235.47V625.00M239.30 625.00V578.38H241.32V625.00M245.15 625.00V547.89H247.17V625.00M250.99 625.00V518.08H253.01V625.00M268.53 625.00V547.89H270.55V625.00M309.46 625.00V554.93H311.48V625.00M315.31 625.00V521.43H317.33V625.00M321.15 625.00V524.78H323.17V625.00M327.00 625.00V552.25H329.02V625.00M332.85 625.00V538.18H334.87V625.00M338.69 625.00V561.29H340.71V625.00M344.54 625.00V554.93H346.56V625.00M350.39 625.00V541.53H352.41V625.00M356.23 625.00V564.98H358.25V625.00M362.08 625.00V538.18H364.10V625.00M367.93 625.00V568.66H369.95V625.00" fill="#fff" stroke="#000" stroke-width="0.64"/><path d="M31.75 625.00V574.75H34.47V625.00ZM37.60 625.00V578.10H40.32V625.00ZM43.44 625.00V568.38H46.16V625.00ZM49.29 625.00V614.95H52.01V625.00ZM55.14 625.00V541.25H57.86V625.00ZM60.98 625.00V561.01H63.70V625.00ZM66.83 625.00V581.45H69.55V625.00ZM72.68 625.00V558.00H75.40V625.00ZM78.52 625.00V601.55H81.24V625.00ZM84.37 625.00V568.38H87.09V625.00ZM90.22 625.00V581.45H92.94V625.00ZM96.06 625.00V568.38H98.78V625.00ZM101.91 625.00V571.40H104.63V625.00ZM107.76 625.00V554.65H110.48V625.00ZM119.45 625.00V558.00H122.17V625.00ZM125.30 625.00V558.00H128.02V625.00ZM131.14 625.00V544.60H133.86V625.00ZM136.99 625.00V565.03H139.71V625.00ZM142.84 625.00V565.03H145.56V625.00ZM148.68 625.00V570.39H151.40V625.00ZM154.53 625.00V568.38H157.25V625.00ZM160.38 625.00V568.38H163.10V625.00ZM166.22 625.00V578.10H168.94V625.00ZM172.07 625.00V568.38H174.79V625.00ZM177.91 625.00V568.38H180.63V625.00ZM183.76 625.00V544.60H186.48V625.00ZM189.61 625.00V564.03H192.33V625.00ZM195.45 625.00V550.97H198.17V625.00ZM201.30 625.00V554.65H204.02V625.00ZM207.15 625.00V588.15H209.87V625.00ZM212.99 625.00V547.62H215.71V625.00ZM218.84 625.00V574.75H221.56V625.00ZM224.69 625.00V574.75H227.41V625.00ZM230.53 625.00V537.90H233.25V625.00ZM236.38 625.00V568.38H239.10V625.00ZM242.23 625.00V564.70H244.95V625.00ZM248.07 625.00V571.07H250.79V625.00ZM265.61 625.00V550.97H268.33V625.00ZM306.54 625.00V591.50H309.26V625.00ZM312.39 625.00V571.07H315.11V625.00ZM318.23 625.00V527.51H320.95V625.00ZM324.08 625.00V551.97H326.80V625.00ZM329.93 625.00V541.25H332.65V625.00ZM335.77 625.00V534.22H338.49V625.00ZM341.62 625.00V537.90H344.34V625.00ZM347.47 625.00V561.01H350.19V625.00ZM353.31 625.00V541.25H356.03V625.00ZM359.16 625.00V561.01H361.88V625.00ZM365.01 625.00V558.00H367.73V625.00Z" fill="#000"/><path d="M31.30 457.50V625.00H370.40V457.50" fill="none" stroke="#8a8a8a" stroke-width="0.65"/><text class="t" transform="translate(23.00 628.00) scale(.953 1)" text-anchor="end">10</text><text class="t" transform="translate(23.00 611.25) scale(.953 1)" text-anchor="end">15</text><text class="t" transform="translate(23.00 594.50) scale(.953 1)" text-anchor="end">20</text><text class="t" transform="translate(23.00 577.75) scale(.953 1)" text-anchor="end">25</text><text class="t" transform="translate(23.00 561.00) scale(.953 1)" text-anchor="end">30</text><text class="t" transform="translate(23.00 544.25) scale(.953 1)" text-anchor="end">35</text><text class="t" transform="translate(23.00 527.50) scale(.953 1)" text-anchor="end">40</text><text class="t" transform="translate(23.00 510.75) scale(.953 1)" text-anchor="end">45</text><text class="t" transform="translate(23.00 494.00) scale(.953 1)" text-anchor="end">50</text><text class="t" transform="translate(23.00 477.25) scale(.953 1)" text-anchor="end">55</text><text class="t" transform="translate(23.00 460.50) scale(.953 1)" text-anchor="end">60</text><text class="t" transform="translate(379.40 628.00) scale(.953 1)">160</text><text class="t" transform="translate(379.40 597.55) scale(.953 1)">180</text><text class="t" transform="translate(379.40 567.09) scale(.953 1)">200</text><text class="t" transform="translate(379.40 536.64) scale(.953 1)">220</text><text class="t" transform="translate(379.40 506.18) scale(.953 1)">240</text><text class="t" transform="translate(379.40 475.73) scale(.953 1)">260</text><path d="M31.30 625.00h-3.3M31.30 608.25h-3.3M31.30 591.50h-3.3M31.30 574.75h-3.3M31.30 558.00h-3.3M31.30 541.25h-3.3M31.30 524.50h-3.3M31.30 507.75h-3.3M31.30 491.00h-3.3M31.30 474.25h-3.3M31.30 457.50h-3.3M370.40 625.00h3.6M370.40 594.55h3.6M370.40 564.09h3.6M370.40 533.64h3.6M370.40 503.18h3.6M370.40 472.73h3.6M31.30 625.00v3.4M37.15 625.00v3.4M42.99 625.00v3.4M48.84 625.00v3.4M54.69 625.00v3.4M60.53 625.00v3.4M66.38 625.00v3.4M72.23 625.00v3.4M78.07 625.00v3.4M83.92 625.00v3.4M89.77 625.00v3.4M95.61 625.00v3.4M101.46 625.00v3.4M107.31 625.00v3.4M113.15 625.00v3.4M119.00 625.00v3.4M124.85 625.00v3.4M130.69 625.00v3.4M136.54 625.00v3.4M142.39 625.00v3.4M148.23 625.00v3.4M154.08 625.00v3.4M159.93 625.00v3.4M165.77 625.00v3.4M171.62 625.00v3.4M177.47 625.00v3.4M183.31 625.00v3.4M189.16 625.00v3.4M195.00 625.00v3.4M200.85 625.00v3.4M206.70 625.00v3.4M212.54 625.00v3.4M218.39 625.00v3.4M224.24 625.00v3.4M230.08 625.00v3.4M235.93 625.00v3.4M241.78 625.00v3.4M247.62 625.00v3.4M253.47 625.00v3.4M259.32 625.00v3.4M265.16 625.00v3.4M271.01 625.00v3.4M276.86 625.00v3.4M282.70 625.00v3.4M288.55 625.00v3.4M294.40 625.00v3.4M300.24 625.00v3.4M306.09 625.00v3.4M311.94 625.00v3.4M317.78 625.00v3.4M323.63 625.00v3.4M329.48 625.00v3.4M335.32 625.00v3.4M341.17 625.00v3.4M347.02 625.00v3.4M352.86 625.00v3.4M358.71 625.00v3.4M364.56 625.00v3.4M370.40 625.00v3.4" fill="none" stroke="#b0b0b0" stroke-width="0.7"/><text class="t" transform="translate(33.92 639.80) scale(.953 1)" text-anchor="middle">1955</text><text class="t" transform="translate(92.39 639.80) scale(.953 1)" text-anchor="middle">1965</text><text class="t" transform="translate(150.86 639.80) scale(.953 1)" text-anchor="middle">1975</text><text class="t" transform="translate(209.32 639.80) scale(.953 1)" text-anchor="middle">1985</text><text class="t" transform="translate(267.79 639.80) scale(.953 1)" text-anchor="middle">1995</text><text class="t" transform="translate(326.25 639.80) scale(.953 1)" text-anchor="middle">2005</text><path d="M34.22 477.99L36.52 482.49H31.92ZM40.07 471.90L42.37 476.40H37.77ZM45.92 487.13L48.22 491.63H43.62ZM51.76 456.98L54.06 461.48H49.46ZM57.61 500.83L59.91 505.33H55.31ZM63.46 489.11L65.76 493.61H61.16ZM69.30 471.90L71.60 476.40H67.00ZM75.15 486.98L77.45 491.48H72.85ZM81.00 459.72L83.30 464.22H78.70ZM86.84 475.25L89.14 479.75H84.54ZM92.69 481.34L94.99 485.84H90.39ZM98.54 486.22L100.84 490.72H96.24ZM104.38 483.63L106.68 488.13H102.08ZM110.23 504.34L112.53 508.84H107.93ZM121.92 483.63L124.22 488.13H119.62ZM127.77 491.55L130.07 496.05H125.47ZM133.62 487.13L135.92 491.63H131.32ZM139.46 487.13L141.76 491.63H137.16ZM145.31 486.22L147.61 490.72H143.01ZM151.16 487.13L153.46 491.63H148.86ZM157.00 479.97L159.30 484.47H154.70ZM162.85 486.22L165.15 490.72H160.55ZM168.70 475.25L171.00 479.75H166.40ZM174.54 479.97L176.84 484.47H172.24ZM180.39 477.99L182.69 482.49H178.09ZM186.23 498.25L188.53 502.75H183.93ZM192.08 479.97L194.38 484.47H189.78ZM197.93 489.11L200.23 493.61H195.63ZM203.77 489.11L206.07 493.61H201.47ZM209.62 475.25L211.92 479.75H207.32ZM215.47 485.76L217.77 490.26H213.17ZM221.31 466.12L223.61 470.62H219.01ZM227.16 481.19L229.46 485.69H224.86ZM233.01 499.92L235.31 504.42H230.71ZM238.85 500.83L241.15 505.33H236.55ZM244.70 486.52L247.00 491.02H242.40ZM250.55 471.14L252.85 475.64H248.25ZM268.09 494.13L270.39 498.63H265.79ZM309.01 477.84L311.31 482.34H306.71ZM314.86 471.90L317.16 476.40H312.56ZM320.71 493.98L323.01 498.48H318.41ZM326.55 493.98L328.85 498.48H324.25ZM332.40 493.98L334.70 498.48H330.10ZM338.25 507.38L340.55 511.88H335.95ZM344.09 500.68L346.39 505.18H341.79ZM349.94 486.06L352.24 490.56H347.64ZM355.79 507.38L358.09 511.88H353.49ZM361.63 484.08L363.93 488.58H359.33ZM367.48 500.68L369.78 505.18H365.18Z" fill="#fff" stroke="#111" stroke-width="0.95" stroke-linejoin="miter"/><line x1="33.62" y1="574.58" x2="368.48" y2="550.77" stroke="#000" stroke-width="2.1"/><line x1="33.62" y1="539.29" x2="368.48" y2="546.24" stroke="#000" stroke-width="2.1" stroke-dasharray="18.4 9.0"/><line x1="33.62" y1="480.90" x2="368.48" y2="495.33" stroke="#000" stroke-width="2.1" stroke-dasharray="9.4 8.05"/><text class="b" x="195.4" y="456.5" text-anchor="middle" font-size="10.47">Yana at Yubileinaya</text><text class="b" transform="translate(11.0 540.2) rotate(-90) scale(.905 1)" text-anchor="middle" font-size="8.5">Number of days</text><text class="b" transform="translate(404.4 540.2) rotate(-90) scale(.919 1)" text-anchor="middle" font-size="8.5">Number of days with ice conditions</text><text class="b" x="200.9" y="651.1" text-anchor="middle" font-size="7.1">Year</text></g>
<g><path d="M443.87 625.00V569.73H445.89V625.00M449.71 625.00V546.46H451.73V625.00M455.56 625.00V552.57H457.58V625.00M461.40 625.00V554.61H463.42V625.00M467.25 625.00V584.85H469.27V625.00M473.09 625.00V552.28H475.11V625.00M478.93 625.00V558.97H480.95V625.00M484.78 625.00V571.77H486.80V625.00M490.62 625.00V552.28H492.64V625.00M496.47 625.00V563.91H498.49V625.00M502.31 625.00V558.10H504.33V625.00M508.15 625.00V571.77H510.17V625.00M514.00 625.00V598.81H516.02V625.00M519.84 625.00V581.65H521.86V625.00M525.69 625.00V558.10H527.71V625.00M531.53 625.00V571.77H533.55V625.00M537.37 625.00V578.46H539.39V625.00M543.22 625.00V584.27H545.24V625.00M549.06 625.00V574.97H551.08V625.00M554.91 625.00V563.91H556.93V625.00M560.75 625.00V569.73H562.77V625.00M566.59 625.00V549.66H568.61V625.00M572.44 625.00V563.91H574.46V625.00M578.28 625.00V564.20H580.30V625.00M584.13 625.00V581.65H586.15V625.00M589.97 625.00V569.73H591.99V625.00M595.81 625.00V589.80H597.83V625.00M601.66 625.00V578.46H603.68V625.00M607.50 625.00V571.77H609.52V625.00M613.35 625.00V595.62H615.37V625.00M619.19 625.00V552.28H621.21V625.00M625.03 625.00V569.73H627.05V625.00M630.88 625.00V540.36H632.90V625.00M636.72 625.00V569.73H638.74V625.00M642.57 625.00V571.77H644.59V625.00M648.41 625.00V589.80H650.43V625.00M654.25 625.00V569.73H656.27V625.00M660.10 625.00V574.97H662.12V625.00M665.94 625.00V571.77H667.96V625.00M671.79 625.00V574.97H673.81V625.00M677.63 625.00V571.77H679.65V625.00M683.47 625.00V571.77H685.49V625.00M689.32 625.00V549.66H691.34V625.00M695.16 625.00V561.01H697.18V625.00M701.01 625.00V566.53H703.03V625.00M706.85 625.00V574.97H708.87V625.00M712.69 625.00V586.89H714.71V625.00M718.54 625.00V571.77H720.56V625.00M724.38 625.00V566.53H726.40V625.00M730.23 625.00V561.01H732.25V625.00M736.07 625.00V566.53H738.09V625.00M741.91 625.00V563.91H743.93V625.00M747.76 625.00V586.89H749.78V625.00M753.60 625.00V571.77H755.62V625.00M759.45 625.00V571.77H761.47V625.00M765.29 625.00V578.46H767.31V625.00M771.13 625.00V554.61H773.15V625.00M776.98 625.00V571.77H779.00V625.00" fill="#fff" stroke="#000" stroke-width="0.64"/><path d="M440.95 625.00V560.73H443.67V625.00ZM446.79 625.00V566.83H449.51V625.00ZM452.64 625.00V552.00H455.36V625.00ZM458.48 625.00V552.00H461.20V625.00ZM464.33 625.00V578.18H467.05V625.00ZM470.17 625.00V552.00H472.89V625.00ZM476.01 625.00V554.91H478.73V625.00ZM481.86 625.00V558.69H484.58V625.00ZM487.70 625.00V574.69H490.42V625.00ZM493.55 625.00V554.91H496.27V625.00ZM511.08 625.00V554.91H513.80V625.00ZM516.92 625.00V563.63H519.64V625.00ZM522.77 625.00V552.00H525.49V625.00ZM528.61 625.00V554.91H531.33V625.00ZM534.45 625.00V546.18H537.17V625.00ZM540.30 625.00V549.38H543.02V625.00ZM546.14 625.00V540.08H548.86V625.00ZM551.99 625.00V557.82H554.71V625.00ZM557.83 625.00V528.15H560.55V625.00ZM563.67 625.00V552.00H566.39V625.00ZM569.52 625.00V560.73H572.24V625.00ZM575.36 625.00V560.73H578.08V625.00ZM581.21 625.00V540.08H583.93V625.00ZM587.05 625.00V570.61H589.77V625.00ZM592.89 625.00V543.28H595.61V625.00ZM598.74 625.00V531.64H601.46V625.00ZM604.58 625.00V543.28H607.30V625.00ZM610.43 625.00V554.91H613.15V625.00ZM616.27 625.00V574.69H618.99V625.00ZM622.11 625.00V543.28H624.83V625.00ZM627.96 625.00V548.80H630.68V625.00ZM633.80 625.00V546.18H636.52V625.00ZM639.65 625.00V534.26H642.37V625.00ZM645.49 625.00V551.71H648.21V625.00ZM651.33 625.00V554.91H654.05V625.00ZM657.18 625.00V549.38H659.90V625.00ZM663.02 625.00V563.63H665.74V625.00ZM668.87 625.00V554.91H671.59V625.00ZM674.71 625.00V537.46H677.43V625.00ZM680.55 625.00V545.60H683.27V625.00ZM686.40 625.00V543.28H689.12V625.00ZM692.24 625.00V549.38H694.96V625.00ZM698.09 625.00V560.73H700.81V625.00ZM703.93 625.00V545.60H706.65V625.00ZM709.77 625.00V551.71H712.49V625.00ZM715.62 625.00V549.38H718.34V625.00ZM721.46 625.00V546.18H724.18V625.00ZM727.31 625.00V531.64H730.03V625.00ZM733.15 625.00V537.46H735.87V625.00ZM738.99 625.00V534.26H741.71V625.00ZM744.84 625.00V534.26H747.56V625.00ZM750.68 625.00V531.64H753.40V625.00ZM756.53 625.00V534.26H759.25V625.00ZM762.37 625.00V543.28H765.09V625.00ZM768.21 625.00V537.46H770.93V625.00ZM774.06 625.00V543.28H776.78V625.00Z" fill="#000"/><path d="M440.50 450.50V625.00H779.45V450.50" fill="none" stroke="#8a8a8a" stroke-width="0.65"/><text class="t" transform="translate(432.20 628.00) scale(.953 1)" text-anchor="end">10</text><text class="t" transform="translate(432.20 598.92) scale(.953 1)" text-anchor="end">20</text><text class="t" transform="translate(432.20 569.83) scale(.953 1)" text-anchor="end">30</text><text class="t" transform="translate(432.20 540.75) scale(.953 1)" text-anchor="end">40</text><text class="t" transform="translate(432.20 511.67) scale(.953 1)" text-anchor="end">50</text><text class="t" transform="translate(432.20 482.58) scale(.953 1)" text-anchor="end">60</text><text class="t" transform="translate(432.20 453.50) scale(.953 1)" text-anchor="end">70</text><text class="t" transform="translate(788.45 628.00) scale(.953 1)">160</text><text class="t" transform="translate(788.45 596.27) scale(.953 1)">180</text><text class="t" transform="translate(788.45 564.55) scale(.953 1)">200</text><text class="t" transform="translate(788.45 532.82) scale(.953 1)">220</text><text class="t" transform="translate(788.45 501.09) scale(.953 1)">240</text><text class="t" transform="translate(788.45 469.36) scale(.953 1)">260</text><path d="M440.50 625.00h-3.3M440.50 595.92h-3.3M440.50 566.83h-3.3M440.50 537.75h-3.3M440.50 508.67h-3.3M440.50 479.58h-3.3M440.50 450.50h-3.3M779.45 625.00h3.6M779.45 593.27h3.6M779.45 561.55h3.6M779.45 529.82h3.6M779.45 498.09h3.6M779.45 466.36h3.6M440.50 625.00v3.4M446.34 625.00v3.4M452.19 625.00v3.4M458.03 625.00v3.4M463.88 625.00v3.4M469.72 625.00v3.4M475.56 625.00v3.4M481.41 625.00v3.4M487.25 625.00v3.4M493.10 625.00v3.4M498.94 625.00v3.4M504.78 625.00v3.4M510.63 625.00v3.4M516.47 625.00v3.4M522.32 625.00v3.4M528.16 625.00v3.4M534.00 625.00v3.4M539.85 625.00v3.4M545.69 625.00v3.4M551.54 625.00v3.4M557.38 625.00v3.4M563.22 625.00v3.4M569.07 625.00v3.4M574.91 625.00v3.4M580.76 625.00v3.4M586.60 625.00v3.4M592.44 625.00v3.4M598.29 625.00v3.4M604.13 625.00v3.4M609.98 625.00v3.4M615.82 625.00v3.4M621.66 625.00v3.4M627.51 625.00v3.4M633.35 625.00v3.4M639.20 625.00v3.4M645.04 625.00v3.4M650.88 625.00v3.4M656.73 625.00v3.4M662.57 625.00v3.4M668.42 625.00v3.4M674.26 625.00v3.4M680.10 625.00v3.4M685.95 625.00v3.4M691.79 625.00v3.4M697.64 625.00v3.4M703.48 625.00v3.4M709.32 625.00v3.4M715.17 625.00v3.4M721.01 625.00v3.4M726.86 625.00v3.4M732.70 625.00v3.4M738.54 625.00v3.4M744.39 625.00v3.4M750.23 625.00v3.4M756.08 625.00v3.4M761.92 625.00v3.4M767.76 625.00v3.4M773.61 625.00v3.4M779.45 625.00v3.4" fill="none" stroke="#b0b0b0" stroke-width="0.7"/><text class="t" transform="translate(443.12 639.80) scale(.953 1)" text-anchor="middle">1955</text><text class="t" transform="translate(501.56 639.80) scale(.953 1)" text-anchor="middle">1965</text><text class="t" transform="translate(560.00 639.80) scale(.953 1)" text-anchor="middle">1975</text><text class="t" transform="translate(618.44 639.80) scale(.953 1)" text-anchor="middle">1985</text><text class="t" transform="translate(676.88 639.80) scale(.953 1)" text-anchor="middle">1995</text><text class="t" transform="translate(735.32 639.80) scale(.953 1)" text-anchor="middle">2005</text><path d="M443.42 494.16L445.72 498.66H441.12ZM449.27 477.98L451.57 482.48H446.97ZM455.11 494.16L457.41 498.66H452.81ZM460.95 491.31L463.25 495.81H458.65ZM466.80 494.16L469.10 498.66H464.50ZM472.64 489.25L474.94 493.75H470.34ZM478.49 491.31L480.79 495.81H476.19ZM484.33 499.24L486.63 503.74H482.03ZM490.17 476.40L492.47 480.90H487.87ZM496.02 493.85L498.32 498.35H493.72ZM513.55 515.26L515.85 519.76H511.25ZM519.39 500.83L521.69 505.33H517.09ZM525.24 492.26L527.54 496.76H522.94ZM531.08 500.83L533.38 505.33H528.78ZM536.93 508.76L539.23 513.26H534.63ZM542.77 510.34L545.07 514.84H540.47ZM548.61 510.34L550.91 514.84H546.31ZM554.46 492.26L556.76 496.76H552.16ZM560.30 511.14L562.60 515.64H558.00ZM566.15 487.98L568.45 492.48H563.85ZM571.99 491.31L574.29 495.81H569.69ZM577.83 488.93L580.13 493.43H575.53ZM583.68 513.36L585.98 517.86H581.38ZM589.52 529.06L591.82 533.56H587.22ZM595.37 516.21L597.67 520.71H593.07ZM601.21 516.21L603.51 520.71H598.91ZM607.05 507.01L609.35 511.51H604.75ZM612.90 513.36L615.20 517.86H610.60ZM618.74 475.13L621.04 479.63H616.44ZM624.59 503.36L626.89 507.86H622.29ZM630.43 484.17L632.73 488.67H628.13ZM636.27 502.25L638.57 506.75H633.97ZM642.12 508.28L644.42 512.78H639.82ZM647.96 511.14L650.26 515.64H645.66ZM653.81 497.18L656.11 501.68H651.51ZM659.65 505.43L661.95 509.93H657.35ZM665.49 496.38L667.79 500.88H663.19ZM671.34 501.94L673.64 506.44H669.04ZM677.18 506.85L679.48 511.35H674.88ZM683.03 505.74L685.33 510.24H680.73ZM688.87 492.42L691.17 496.92H686.57ZM694.71 496.38L697.01 500.88H692.41ZM700.56 492.42L702.86 496.92H698.26ZM706.40 508.44L708.70 512.94H704.10ZM712.25 510.19L714.55 514.69H709.95ZM718.09 503.21L720.39 507.71H715.79ZM723.93 500.67L726.23 505.17H721.63ZM729.78 505.74L732.08 510.24H727.48ZM735.62 505.74L737.92 510.24H733.32ZM741.47 505.27L743.77 509.77H739.17ZM747.31 519.54L749.61 524.04H745.01ZM753.15 513.52L755.45 518.02H750.85ZM759.00 511.30L761.30 515.80H756.70ZM764.84 510.50L767.14 515.00H762.54ZM770.69 499.08L772.99 503.58H768.39ZM776.53 506.85L778.83 511.35H774.23Z" fill="#fff" stroke="#111" stroke-width="0.95" stroke-linejoin="miter"/><line x1="442.82" y1="560.29" x2="777.53" y2="539.61" stroke="#000" stroke-width="2.1"/><line x1="442.82" y1="568.03" x2="777.53" y2="572.33" stroke="#000" stroke-width="2.1" stroke-dasharray="18.4 9.0"/><line x1="442.82" y1="496.44" x2="777.53" y2="509.91" stroke="#000" stroke-width="2.1" stroke-dasharray="9.4 8.05"/><text class="b" x="596.7" y="451.4" text-anchor="middle" font-size="10.31">Kolyma at Srednekolymsk</text><text class="b" transform="translate(420.2 536.8) rotate(-90) scale(.905 1)" text-anchor="middle" font-size="8.5">Number of days</text><text class="b" transform="translate(813.5 536.8) rotate(-90) scale(.919 1)" text-anchor="middle" font-size="8.5">Number of days with ice conditions</text><text class="b" x="610.0" y="651.1" text-anchor="middle" font-size="7.1">Year</text></g>
<rect x="417.3" y="662" width="6.8" height="6.8" fill="#000"/>
<text class="l" x="427.8" y="670" font-size="11" textLength="117.8" lengthAdjust="spacingAndGlyphs">Start of ice events in Fall</text>
<rect x="553.4" y="662.3" width="5.8" height="5.8" fill="#fff" stroke="#222" stroke-width="0.7"/>
<text class="l" x="562.6" y="670" font-size="11" textLength="126.8" lengthAdjust="spacingAndGlyphs">End of ice events in Spring</text>
<path d="M700.2 663.5L702.1 667.4H698.3Z" fill="#fff" stroke="#333" stroke-width="0.6"/>
<text class="l" x="707" y="670" font-size="11" textLength="105.7" lengthAdjust="spacingAndGlyphs">Duration of ice events</text>
<path d="M604.2 213h.9M606 213h.9" stroke="#ccc" stroke-width=".8"/>
</svg></body></html>
